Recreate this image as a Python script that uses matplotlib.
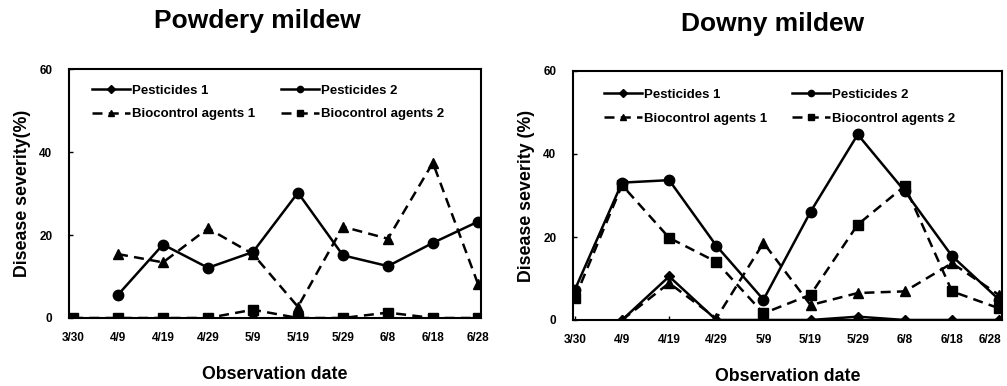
import numpy as np
import matplotlib
matplotlib.use("Agg")
import matplotlib.pyplot as plt
import matplotlib.transforms as mtransforms

nan = np.nan
dates = ['3/30', '4/9', '4/19', '4/29', '5/9', '5/19', '5/29', '6/8', '6/18', '6/28']

# Powdery mildew
pm_pest1 = [0, 0, 0, 0, 0, 0, 0, 0, 0, 0]
pm_pest2 = [nan, 5.6, 17.7, 12.1, 15.9, 30.2, 15.1, 12.5, 18.1, 23.2]
pm_bca1 = [nan, 15.4, 13.4, 21.6, 15.4, 2.7, 22.0, 19.1, 37.4, 8.3]
pm_bca2 = [0, 0, 0, 0, 2.0, 0, 0, 1.3, 0, 0]

# Downy mildew
dm_pest1 = [nan, 0, 10.5, 0, 0, 0, 0.8, 0, 0, 0]
dm_pest2 = [7.3, 33.1, 33.7, 17.9, 4.9, 26.1, 44.7, 31.0, 15.4, 4.9]
dm_bca1 = [nan, 0, 8.9, 0.4, 18.6, 3.6, 6.5, 6.9, 13.7, 6.0]
dm_bca2 = [5.3, 32.5, 19.8, 14.0, 1.6, 6.1, 23.0, 32.3, 6.9, 2.8]

labels = ['Pesticides 1', 'Pesticides 2', 'Biocontrol agents 1', 'Biocontrol agents 2']

W, H = 1007, 386
fig = plt.figure(figsize=(W / 100, H / 100), dpi=100)

fam = ['Liberation Sans', 'DejaVu Sans']
tickfont = dict(family=fam, weight='bold', size=8.5)
labfont = dict(family=fam, weight='bold', size=12.8)
titlefont = dict(family=fam, weight='bold', size=19)
TICKPAD = 10


def px_axes(x0, x1, y0, y1):
    return fig.add_axes([x0 / W, 1 - y1 / H, (x1 - x0) / W, (y1 - y0) / H])


def draw(ax, p1, p2, b1, b2, xlim, ylabel, leg_anchor, last_shift):
    x = np.arange(len(dates))
    lw = 1.8
    l1, = ax.plot(x, p1, '-', color='black', lw=lw, marker='D', ms=5, label=labels[0])
    l2, = ax.plot(x, p2, '-', color='black', lw=lw, marker='o', ms=7.5, label=labels[1])
    l3, = ax.plot(x, b1, '--', color='black', lw=lw, marker='^', ms=7.5, label=labels[2], dashes=(4, 2.5))
    l4, = ax.plot(x, b2, '--', color='black', lw=lw, marker='s', ms=7, label=labels[3], dashes=(4, 2.5))
    ax.set_xlim(*xlim)
    ax.set_ylim(0, 60)
    ax.set_yticks([0, 20, 40, 60])
    ax.set_xticks(x)
    shown = list(dates[:-1]) + ([''] if last_shift else [dates[-1]])
    ax.set_xticklabels(shown, fontdict=tickfont)
    ax.set_yticklabels(['0', '20', '40', '60'], fontdict=tickfont)
    ax.tick_params(direction='in', length=3, width=1, pad=12)
    ax.tick_params(axis='x', pad=TICKPAD)
    if last_shift:
        tr = ax.get_xaxis_transform() + mtransforms.ScaledTranslation(
            last_shift / 100, -TICKPAD / 72, fig.dpi_scale_trans)
        ax.text(x[-1], 0, dates[-1], transform=tr, ha='center', va='top', fontdict=tickfont)
    for s in ax.spines.values():
        s.set_linewidth(1.5)
    ax.set_ylabel(ylabel, fontdict=labfont, labelpad=6)
    ax.set_xlabel('Observation date', fontdict=labfont, labelpad=16)
    leg = ax.legend([l1, l3, l2, l4], [labels[0], labels[2], labels[1], labels[3]],
                    ncol=2, frameon=False, loc='upper left', bbox_to_anchor=leg_anchor,
                    borderpad=0, handlelength=2.9, handletextpad=0.15, columnspacing=1.9,
                    labelspacing=0.88, numpoints=1,
                    prop=dict(family=fam, weight='bold', size=9.5))
    for h in leg.legend_handles:
        h.set_markersize(4.5)
    return ax


ax1 = px_axes(69, 481, 69, 318)
draw(ax1, pm_pest1, pm_pest2, pm_bca1, pm_bca2, (-0.09, 9.07),
     'Disease severity(%)', (0.04, 0.965), 0)

ax2 = px_axes(573, 1002, 71, 320)
draw(ax2, dm_pest1, dm_pest2, dm_bca1, dm_bca2, (-0.04, 9.06),
     'Disease severity (%)', (0.056, 0.955), -9)

fig.text(257 / W, 1 - 21 / H, 'Powdery mildew', ha='center', va='center', fontdict=titlefont)
fig.text(773 / W, 1 - 24 / H, 'Downy mildew', ha='center', va='center', fontdict=titlefont)

fig.savefig('out.png', dpi=100)
